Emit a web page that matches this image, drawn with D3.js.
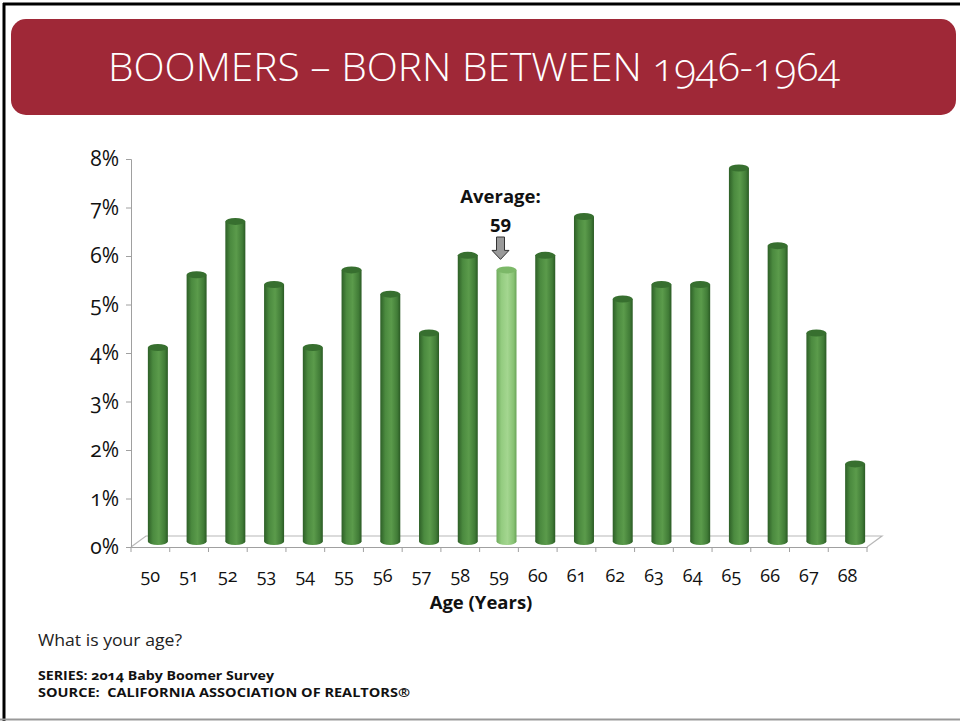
<!DOCTYPE html>
<html>
<head>
<meta charset="utf-8">
<script src="https://cdn.jsdelivr.net/npm/d3@7"></script>
<style>
  body { margin: 0; background: #fff; }
  svg text { font-family: "Open Sans", "Noto Sans", sans-serif; }
  .onum { font-feature-settings: "onum" 1; font-variant-numeric: oldstyle-nums; }
</style>
</head>
<body>
<div id="chart"></div>
<script>
// chart data
var ages = ["50", "51", "52", "53", "54", "55", "56", "57", "58", "59", "60", "61", "62", "63", "64", "65", "66", "67", "68"];
var shares = [4.0, 5.5, 6.6, 5.3, 4.0, 5.6, 5.1, 4.3, 5.9, 5.6, 5.9, 6.7, 5.0, 5.3, 5.3, 7.7, 6.1, 4.3, 1.6];
var yTicks = [0, 1, 2, 3, 4, 5, 6, 7, 8];
var averageAge = "59";

var W = 960, H = 721;
var depthX = 15, depthY = 11;   // 3D floor offset

var svg = d3.select("#chart").append("svg")
    .attr("width", W).attr("height", H);

// page frame
svg.append("rect").attr("x", 0).attr("y", 0).attr("width", W).attr("height", H).attr("fill", "#fff");
svg.append("line").attr("x1", 3).attr("x2", W).attr("y1", 4).attr("y2", 4)
    .attr("stroke", "#000").attr("stroke-width", 3);
svg.append("line").attr("x1", 4).attr("x2", 4).attr("y1", 3).attr("y2", H)
    .attr("stroke", "#000").attr("stroke-width", 3);
svg.append("line").attr("x1", 0).attr("x2", W).attr("y1", 719.5).attr("y2", 719.5)
    .attr("stroke", "#999").attr("stroke-width", 2);

// header banner
svg.append("rect")
    .attr("x", 11).attr("y", 19).attr("width", 945).attr("height", 96)
    .attr("rx", 15).attr("fill", "#9f2837");
svg.append("text")
    .attr("x", 474).attr("y", 81)
    .attr("text-anchor", "middle")
    .attr("class", "onum")
    .attr("fill", "#fff")
    .style("font-size", "38px")
    .style("font-weight", 300)
    .attr("textLength", 732)
    .attr("lengthAdjust", "spacingAndGlyphs")
    .text("BOOMERS \u2013 BORN BETWEEN 1946-1964");

// scales
var x = d3.scaleBand().domain(ages).range([131, 867]);
var y = d3.scaleLinear().domain([0, 8]).range([547, 159]);

var defs = svg.append("defs");
function cylGradient(id, stops) {
    var g = defs.append("linearGradient").attr("id", id)
        .attr("x1", "0%").attr("x2", "100%").attr("y1", "0%").attr("y2", "0%");
    stops.forEach(function (s) {
        g.append("stop").attr("offset", s[0]).attr("stop-color", s[1]);
    });
}
cylGradient("gDark", [["0%", "#2d5f27"], ["25%", "#4b8a3f"], ["55%", "#5b9b4b"], ["85%", "#417c37"], ["100%", "#2a5a24"]]);
cylGradient("gLight", [["0%", "#6eaa5c"], ["25%", "#94cc80"], ["55%", "#a4d690"], ["85%", "#88c274"], ["100%", "#6aa458"]]);

// floor
var floor = svg.append("g").attr("stroke", "#b8b8b8").attr("stroke-width", 1.2).attr("fill", "none");
floor.append("path").attr("d",
    "M" + x.range()[0] + "," + y(0) +
    "L" + (x.range()[0] + depthX) + "," + (y(0) - depthY) +
    "L" + (x.range()[1] + depthX) + "," + (y(0) - depthY) +
    "L" + x.range()[1] + "," + y(0));

// y axis
var yAxis = d3.axisLeft(y).tickValues(yTicks).tickSize(5).tickPadding(7)
    .tickFormat(function (d) { return d + "%"; });
var gy = svg.append("g").attr("transform", "translate(" + x.range()[0] + ",0)").call(yAxis);
gy.select(".domain").attr("stroke", "#a0a0a0");
gy.selectAll(".tick line").attr("stroke", "#a0a0a0");
gy.selectAll("text").attr("class", "onum").style("font-size", "21px").attr("fill", "#111")
    .style("font-family", "'Open Sans', sans-serif");

// x axis
var xAxis = d3.axisBottom(x).tickSize(0).tickPadding(0).tickFormat("");
var gx = svg.append("g").attr("transform", "translate(0," + y(0) + ")").call(xAxis);
gx.select(".domain").attr("stroke", "#a0a0a0");
gx.selectAll(".tick").remove();
var edges = ages.map(function (a) { return x(a); }).concat([x.range()[1]]);
gx.selectAll("line.edge").data(edges).enter().append("line")
    .attr("class", "edge")
    .attr("x1", function (d) { return d; }).attr("x2", function (d) { return d; })
    .attr("y1", 0).attr("y2", 5)
    .attr("stroke", "#a0a0a0");
svg.selectAll("text.xlab").data(ages).enter().append("text")
    .attr("class", "xlab onum")
    .attr("x", function (d) { return x(d) + x.bandwidth() / 2; })
    .attr("y", 582)
    .attr("text-anchor", "middle")
    .attr("fill", "#111")
    .style("font-size", "18px")
    .text(function (d) { return d; });

svg.append("text")
    .attr("x", 481).attr("y", 609)
    .attr("text-anchor", "middle")
    .style("font-size", "18.5px").style("font-weight", 700)
    .attr("fill", "#111")
    .text("Age (Years)");

// cylinders
var bw = 20, ry = 3.5;
var bars = svg.selectAll("g.cyl").data(ages).enter().append("g").attr("class", "cyl");
function cx(a) { return x(a) + x.bandwidth() / 2 + depthX / 2; }
function barBase() { return y(0) - depthY / 2; }
function barTop(a, i) { return y(shares[i]) - depthY / 2; }
bars.append("ellipse")
    .attr("cx", cx).attr("cy", barBase)
    .attr("rx", bw / 2).attr("ry", ry)
    .attr("fill", function (a) { return a === averageAge ? "url(#gLight)" : "url(#gDark)"; });
bars.append("rect")
    .attr("x", function (a) { return cx(a) - bw / 2; })
    .attr("y", barTop)
    .attr("width", bw)
    .attr("height", function (a, i) { return barBase() - barTop(a, i); })
    .attr("fill", function (a) { return a === averageAge ? "url(#gLight)" : "url(#gDark)"; });
bars.append("ellipse")
    .attr("cx", cx).attr("cy", barTop)
    .attr("rx", bw / 2).attr("ry", ry)
    .attr("fill", function (a) { return a === averageAge ? "#7cb868" : "#376f2f"; });

// average callout
var ax = cx(averageAge) - 6, ai = ages.indexOf(averageAge);
svg.append("text")
    .attr("x", ax).attr("y", 203)
    .attr("text-anchor", "middle")
    .style("font-size", "18.5px").style("font-weight", 700)
    .attr("fill", "#111")
    .text("Average:");
svg.append("text")
    .attr("x", ax).attr("y", 232)
    .attr("text-anchor", "middle")
    .style("font-size", "18.5px").style("font-weight", 700)
    .attr("fill", "#111")
    .text(averageAge);
var aTop = 237, aBot = barTop(averageAge, ai) - ry - 7;
svg.append("path")
    .attr("d", "M" + (ax - 4) + "," + aTop + "H" + (ax + 4) + "V" + (aBot - 9) +
        "H" + (ax + 8.5) + "L" + ax + "," + aBot + "L" + (ax - 8.5) + "," + (aBot - 9) +
        "H" + (ax - 4) + "Z")
    .attr("fill", "#9a9a9a").attr("stroke", "#333").attr("stroke-width", 1);

// notes
svg.append("text").attr("x", 38).attr("y", 646)
    .style("font-size", "16px").attr("fill", "#222")
    .attr("textLength", 144).attr("lengthAdjust", "spacingAndGlyphs")
    .text("What is your age?");
svg.append("text").attr("x", 38).attr("y", 680)
    .attr("class", "onum")
    .style("font-size", "13px").style("font-weight", 700).attr("fill", "#111")
    .attr("textLength", 236).attr("lengthAdjust", "spacingAndGlyphs")
    .text("SERIES: 2014 Baby Boomer Survey");
svg.append("text").attr("x", 38).attr("y", 697)
    .attr("xml:space", "preserve")
    .style("font-size", "13px").style("font-weight", 700).attr("fill", "#111")
    .attr("textLength", 372).attr("lengthAdjust", "spacingAndGlyphs")
    .text("SOURCE:  CALIFORNIA ASSOCIATION OF REALTORS\u00ae");
</script>
</body>
</html>
